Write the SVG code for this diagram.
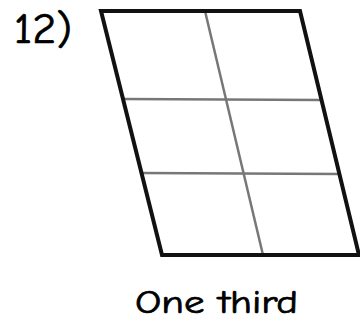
<svg xmlns="http://www.w3.org/2000/svg" width="360" height="321" viewBox="0 0 360 321">
<style>
.outer{fill:none;stroke:#111;stroke-width:4;stroke-linejoin:miter}
.inner{fill:none;stroke:#777;stroke-width:2.5}
.lbl{font-family:"Comic Neue","Liberation Sans",sans-serif;fill:#000;stroke:#000;stroke-width:0.7}
</style>
<rect width="360" height="321" fill="#fff"/>
<g id="grid">
<line class="inner" x1="205" y1="11" x2="263" y2="255"/>
<line class="inner" x1="123" y1="99" x2="322" y2="100"/>
<line class="inner" x1="140" y1="173" x2="340" y2="174"/>
<polygon class="outer" points="101,11 300,11 359,255 162,255"/>
</g>
<text id="num" class="lbl" x="14" y="43" font-size="42" textLength="58" lengthAdjust="spacingAndGlyphs">12)</text>
<text id="caption" class="lbl" x="135" y="313" font-size="32" textLength="163" lengthAdjust="spacingAndGlyphs">One third</text>
</svg>
